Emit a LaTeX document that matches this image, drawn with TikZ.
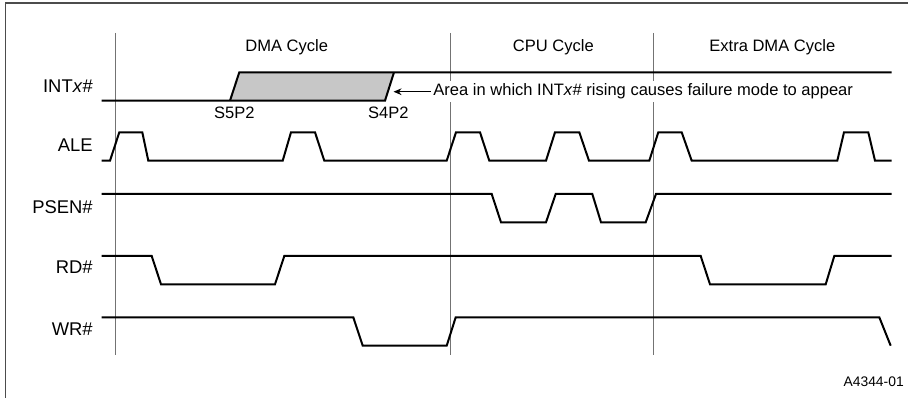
\documentclass[tikz,border=0pt]{standalone}
\usepackage{fontspec}
\setmainfont{Liberation Sans}
\usetikzlibrary{arrows.meta}
\tikzstyle{wave} = [
  line width=1.5pt,
  draw=black
]
\tikzstyle{divider} = [
  line width=0.6pt,
  draw=black!55
]
\tikzstyle{frame} = [
  line width=1.2pt,
  draw=black!70
]
\tikzstyle{area} = [
  fill=black!22
]
\tikzstyle{signame} = [
  anchor=base east,
  inner sep=0pt,
  font=\fontsize{13.8}{16}\selectfont
]
\tikzstyle{caption} = [
  anchor=base,
  inner sep=0pt,
  font=\fontsize{12.4}{14}\selectfont
]
\tikzstyle{note} = [
  anchor=base west,
  inner sep=2pt,
  fill=white,
  font=\fontsize{12.4}{14}\selectfont
]
\tikzstyle{figid} = [
  anchor=base east,
  inner sep=0pt,
  font=\fontsize{10.4}{12}\selectfont
]
\tikzstyle{arrow} = [line width=0.9pt, -{Stealth[length=6pt,width=5pt]}]

\begin{document}
\begin{tikzpicture}[x=0.75pt, y=-0.75pt]
    \useasboundingbox (0,0) rectangle (908,398);
    \draw [frame] (5.5,398) -- (5.5,3) -- (908,3);

    \foreach \xd in {115.3, 450.7, 653.3}
      \draw [divider] (\xd,33) -- (\xd,355);

    \node (dma-cycle) [caption] at (286.7,51.7) {DMA Cycle};
    \node (cpu-cycle) [caption] at (553.3,51.7) {CPU Cycle};
    \node (extra-cycle) [caption] at (772.3,51.7) {Extra DMA Cycle};

    \node (int-name) [signame] at (93,92.3) {INT\textit{x}\#};
    \node (ale-name) [signame] at (93,151.7) {ALE};
    \node (psen-name) [signame] at (93,213.3) {PSEN\#};
    \node (rd-name) [signame] at (93,273.3) {RD\#};
    \node (wr-name) [signame] at (93,335.7) {WR\#};

    \fill [area] (230,100.7) -- (239.3,72.3) -- (394,72.3) -- (385,100.7) -- cycle;
    \draw [wave] (101.7,100.7) -- (385,100.7) -- (394,72.3);
    \draw [wave] (230,100.7) -- (239.3,72.3) -- (891.7,72.3);
    \node (s5p2) [caption] at (234.3,118.3) {S5P2};
    \node (s4p2) [caption] at (388.3,118.3) {S4P2};

    \node (area-note) [note] at (430.5,96) {Area in which INT\textit{x}\# rising causes failure mode to appear};
    \coordinate (area-tip) at (393.5,90);
    \draw [arrow] (area-note.west) -- (area-note.west -| area-tip);

    \draw [wave] (101.7,160.7) -- (110,160.7) -- (119.3,132.3) -- (142.3,132.3) -- (148.3,160.7)
      -- (282.7,160.7) -- (291,132.3) -- (315,132.3) -- (324.3,160.7)
      -- (446.7,160.7) -- (456,132.3) -- (480,132.3) -- (489.3,160.7)
      -- (546,160.7) -- (555,132.3) -- (579.3,132.3) -- (589,160.7)
      -- (649.3,160.7) -- (658.3,132.3) -- (681.7,132.3) -- (691.7,160.7)
      -- (837.3,160.7) -- (844,132.3) -- (868.3,132.3) -- (875,160.7) -- (891.7,160.7);

    \draw [wave] (101.7,194) -- (491.7,194) -- (501,222.3) -- (546,222.3) -- (555.7,194)
      -- (592.3,194) -- (601,222.3) -- (645.7,222.3) -- (656,194) -- (891.7,194);

    \draw [wave] (101.7,256) -- (151.7,256) -- (161,284.3) -- (275,284.3) -- (284.3,256)
      -- (700.7,256) -- (710,284.3) -- (825.7,284.3) -- (834.3,256) -- (891.7,256);

    \draw [wave] (101.7,317.3) -- (353.3,317.3) -- (362.7,345.7) -- (446.7,345.7) -- (455.7,317.3)
      -- (879.3,317.3) -- (890.7,345.7);

    \node (fig-id) [figid] at (904,386.7) {A4344-01};
\end{tikzpicture}
\end{document}
